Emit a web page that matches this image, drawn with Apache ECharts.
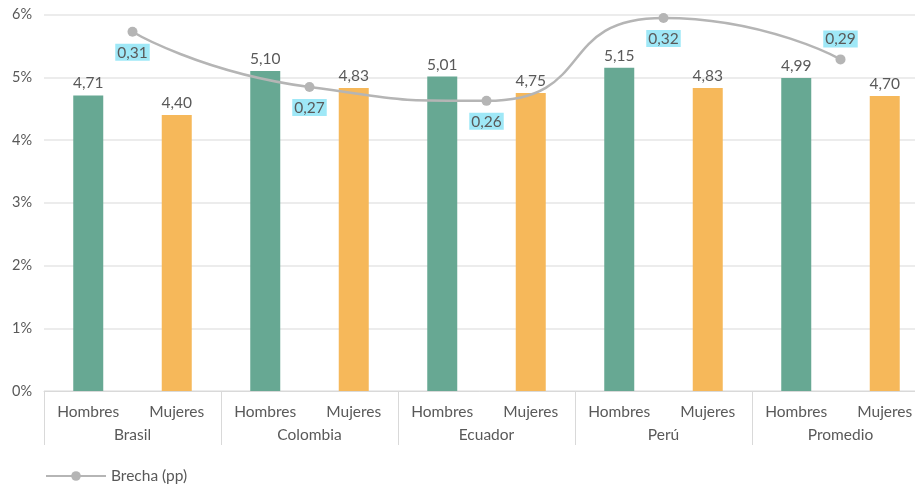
<!DOCTYPE html>
<html><head><meta charset="utf-8">
<script src="https://cdn.jsdelivr.net/npm/echarts@6/dist/echarts.min.js"></script>
<style>html,body{margin:0;padding:0;background:#fff}#c{width:915px;height:484px}</style>
</head><body><div id="c"></div>
<script>
const countries = ['Brasil', 'Colombia', 'Ecuador', 'Perú', 'Promedio'];
const sexes = ['Hombres', 'Mujeres'];
const hombres = [4.71, 5.10, 5.01, 5.15, 4.99];
const mujeres = [4.40, 4.83, 4.75, 4.83, 4.70];
const brecha = [0.31, 0.27, 0.26, 0.32, 0.29];
const yTicks = [0, 1, 2, 3, 4, 5, 6];

const inner = [];
countries.forEach(() => sexes.forEach(s => inner.push(s)));
const hData = [], mData = [];
countries.forEach((c, i) => { hData.push(hombres[i], '-'); mData.push('-', mujeres[i]); });
const fmt = v => v.toFixed(2).replace('.', ',');
const FONT = 'Lato';
const TXT = '#595959';
const FS = 15.5;

const chart = echarts.init(document.getElementById('c'));
chart.setOption({
  animation: false,
  textStyle: { fontFamily: FONT },
  grid: { left: 44, width: 885, top: 14.5, bottom: 93, containLabel: false, outerBoundsMode: 'none' },
  legend: {
    data: ['Brecha (pp)'], left: 40, top: 463,
    itemWidth: 60, itemHeight: 12,
    textStyle: { color: TXT, fontSize: FS, fontFamily: FONT }
  },
  xAxis: [
    { type: 'category', data: inner, position: 'bottom',
      axisLine: { show: true, lineStyle: { color: '#d9d9d9' } },
      axisTick: { show: false },
      axisLabel: { color: TXT, fontSize: FS, margin: 13, fontFamily: FONT } },
    { type: 'category', data: countries, position: 'bottom',
      axisLine: { show: false },
      axisTick: { show: true, length: 54, lineStyle: { color: '#d9d9d9' } },
      axisLabel: { color: TXT, fontSize: FS, margin: 36, fontFamily: FONT } }
  ],
  yAxis: [
    { type: 'value', min: yTicks[0], max: yTicks[yTicks.length - 1], interval: 1,
      axisLabel: { formatter: v => v + '%', color: TXT, fontSize: 14.5, margin: 12, fontFamily: FONT },
      axisLine: { show: false }, axisTick: { show: false },
      splitLine: { lineStyle: { color: '#e6e6e6', width: 1.5 } } },
    { type: 'value', min: 0.05, max: 0.3225, show: false, splitLine: { show: false } }
  ],
  series: [
    { name: 'Hombres', type: 'bar', xAxisIndex: 0, yAxisIndex: 0, data: hData,
      barWidth: 30, barGap: '-100%', itemStyle: { color: '#67a893' },
      label: { show: true, position: 'top', distance: 4, color: TXT, fontSize: FS, fontFamily: FONT,
        formatter: p => fmt(p.value) } },
    { name: 'Mujeres', type: 'bar', xAxisIndex: 0, yAxisIndex: 0, data: mData,
      barWidth: 30, barGap: '-100%', itemStyle: { color: '#f6b85a' },
      label: { show: true, position: 'top', distance: 4, color: TXT, fontSize: FS, fontFamily: FONT,
        formatter: p => fmt(p.value) } },
    { name: 'Brecha (pp)', type: 'line', xAxisIndex: 1, yAxisIndex: 1,
      data: brecha.map((v, i) => ({ value: v, label: { position: i === brecha.length - 1 ? 'top' : 'bottom' } })),
      smooth: 0.6, symbol: 'circle', symbolSize: 10,
      lineStyle: { color: '#b5b5b5', width: 2.5 }, itemStyle: { color: '#b5b5b5' },
      label: { show: true, distance: 7, color: TXT, fontSize: FS, fontFamily: FONT,
        backgroundColor: '#9fe8f7', padding: [1, 2, 0, 2],
        formatter: p => fmt(p.value) } }
  ]
});
</script></body></html>
